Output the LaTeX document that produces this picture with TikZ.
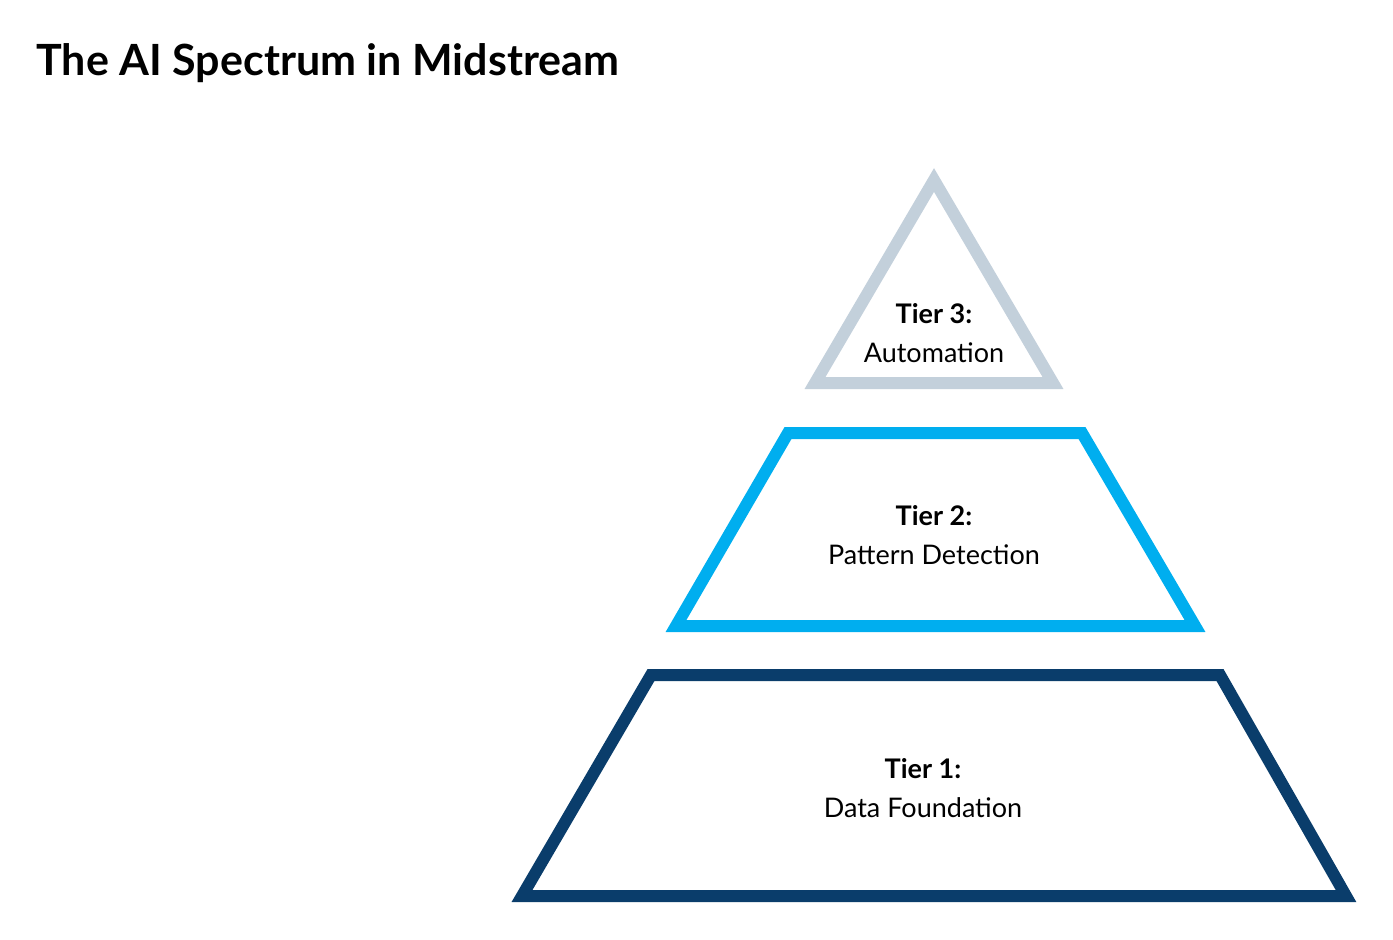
\documentclass[tikz,border=0pt]{standalone}
\usepackage{fontspec}
\setmainfont{Lato}
\usepackage{tikz}
\usetikzlibrary{positioning}
\definecolor{tierthree}{RGB}{195,208,219}
\definecolor{tiertwo}{RGB}{0,174,239}
\definecolor{tierone}{RGB}{10,61,107}
\tikzset{
    layer/.style={line width=12pt, line join=miter},
    tierlabel/.style={align=center, font=\fontsize{27}{39}\selectfont}
}
\begin{document}
\begin{tikzpicture}[x=1pt,y=-1pt]
    \useasboundingbox (0,0) rectangle (1393,940);
    % Title
    \node[anchor=west, font=\fontsize{43}{50}\selectfont\bfseries] (title) at (33,63) {The AI Spectrum in Midstream};

    % Layers
    \draw[layer, draw=tierthree] (934,180) -- (1053,383) -- (815,383) -- cycle;
    \draw[layer, draw=tiertwo] (788,433) -- (1082,433) -- (1195,626) -- (676,626) -- cycle;
    \draw[layer, draw=tierone] (651,675) -- (1220,675) -- (1346,896) -- (522,896) -- cycle;

    % Labels
    \node[tierlabel] (tthree) at (934,333) {\textbf{Tier 3:}\\Automation};
    \node[tierlabel] (ttwo) at (934,535) {\textbf{Tier 2:}\\Pattern Detection};
    \node[tierlabel] (tone) at (923,788) {\textbf{Tier 1:}\\Data Foundation};
\end{tikzpicture}
\end{document}
